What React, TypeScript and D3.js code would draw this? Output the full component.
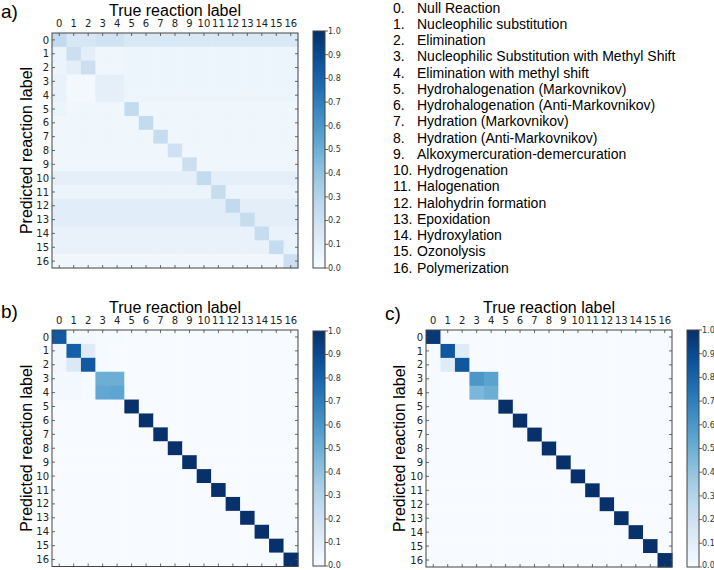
import React from "react";
import * as d3 from "d3";

const labels: string[] = ["0","1","2","3","4","5","6","7","8","9","10","11","12","13","14","15","16"];

const reactionNames: string[] = [
  "Null Reaction",
  "Nucleophilic substitution",
  "Elimination",
  "Nucleophilic Substitution with Methyl Shift",
  "Elimination with methyl shift",
  "Hydrohalogenation (Markovnikov)",
  "Hydrohalogenation (Anti-Markovnikov)",
  "Hydration (Markovnikov)",
  "Hydration (Anti-Markovnikov)",
  "Alkoxymercuration-demercuration",
  "Hydrogenation",
  "Halogenation",
  "Halohydrin formation",
  "Epoxidation",
  "Hydroxylation",
  "Ozonolysis",
  "Polymerization",
];

const colorbarTicks: number[] = [0, 0.1, 0.2, 0.3, 0.4, 0.5, 0.6, 0.7, 0.8, 0.9, 1.0];

// rows = predicted label, columns = true label
const matrixA: number[][] = [
  [0.26,0.16,0.16,0.19,0.19,0.15,0.15,0.15,0.15,0.15,0.15,0.15,0.15,0.15,0.15,0.15,0.15],
  [0.06,0.22,0.10,0.04,0.04,0.05,0.05,0.05,0.05,0.05,0.05,0.05,0.05,0.05,0.05,0.05,0.05],
  [0.06,0.10,0.22,0.04,0.04,0.05,0.05,0.05,0.05,0.05,0.05,0.05,0.05,0.05,0.05,0.05,0.05],
  [0.07,0.02,0.02,0.09,0.09,0.05,0.05,0.05,0.05,0.05,0.05,0.05,0.05,0.05,0.05,0.05,0.05],
  [0.07,0.02,0.02,0.09,0.09,0.05,0.05,0.05,0.05,0.05,0.05,0.05,0.05,0.05,0.05,0.05,0.05],
  [0.06,0.04,0.04,0.04,0.04,0.25,0.04,0.04,0.04,0.04,0.04,0.04,0.04,0.04,0.04,0.04,0.04],
  [0.04,0.04,0.04,0.04,0.04,0.04,0.25,0.04,0.04,0.04,0.04,0.04,0.04,0.04,0.04,0.04,0.04],
  [0.04,0.04,0.04,0.04,0.04,0.04,0.04,0.24,0.04,0.04,0.04,0.04,0.04,0.04,0.04,0.04,0.04],
  [0.04,0.04,0.04,0.04,0.04,0.04,0.04,0.04,0.20,0.04,0.04,0.04,0.04,0.04,0.04,0.04,0.04],
  [0.04,0.04,0.04,0.04,0.04,0.04,0.04,0.04,0.04,0.22,0.04,0.04,0.04,0.04,0.04,0.04,0.04],
  [0.09,0.09,0.09,0.09,0.09,0.09,0.09,0.09,0.09,0.09,0.25,0.09,0.09,0.09,0.09,0.09,0.09],
  [0.06,0.06,0.06,0.06,0.06,0.06,0.06,0.06,0.06,0.06,0.06,0.24,0.06,0.06,0.06,0.06,0.06],
  [0.11,0.11,0.11,0.11,0.11,0.11,0.11,0.11,0.11,0.11,0.11,0.11,0.26,0.10,0.10,0.10,0.10],
  [0.11,0.11,0.11,0.11,0.11,0.11,0.11,0.11,0.11,0.11,0.11,0.11,0.11,0.24,0.10,0.10,0.10],
  [0.07,0.07,0.07,0.07,0.07,0.07,0.07,0.07,0.07,0.07,0.07,0.07,0.07,0.07,0.24,0.07,0.07],
  [0.07,0.07,0.07,0.07,0.07,0.07,0.07,0.07,0.07,0.07,0.07,0.07,0.07,0.07,0.07,0.24,0.07],
  [0.04,0.04,0.04,0.04,0.04,0.04,0.04,0.04,0.04,0.04,0.04,0.04,0.04,0.04,0.04,0.04,0.22],
];

const matrixB: number[][] = [
  [0.84,0.02,0.02,0.01,0.01,0,0,0,0,0,0,0,0,0,0,0,0],
  [0.03,0.82,0.12,0.01,0,0,0,0,0,0,0,0,0,0,0,0,0],
  [0.03,0.14,0.84,0.01,0,0,0,0,0,0,0,0,0,0,0,0,0],
  [0.02,0.02,0.01,0.50,0.50,0,0,0,0,0,0,0,0,0,0,0,0],
  [0.02,0.02,0.01,0.53,0.54,0,0,0,0,0,0,0,0,0,0,0,0],
  [0,0,0,0,0,1,0,0,0,0,0,0,0,0,0,0,0],
  [0,0,0,0,0,0,1,0,0,0,0,0,0,0,0,0,0],
  [0,0,0,0,0,0,0,1,0,0,0,0,0,0,0,0,0],
  [0,0,0,0,0,0,0,0,1,0,0,0,0,0,0,0,0],
  [0,0,0,0,0,0,0,0,0,1,0,0,0,0,0,0,0],
  [0,0,0,0,0,0,0,0,0,0,1,0,0,0,0,0,0],
  [0,0,0,0,0,0,0,0,0,0,0,1,0,0,0,0,0],
  [0,0,0,0,0,0,0,0,0,0,0,0,1,0,0,0,0],
  [0,0,0,0,0,0,0,0,0,0,0,0,0,1,0,0,0],
  [0,0,0,0,0,0,0,0,0,0,0,0,0,0,1,0,0],
  [0,0,0,0,0,0,0,0,0,0,0,0,0,0,0,1,0],
  [0,0,0,0,0,0,0,0,0,0,0,0,0,0,0,0,1],
];

const matrixC: number[][] = [
  [0.97,0,0,0,0,0,0,0,0,0,0,0,0,0,0,0,0],
  [0.01,0.85,0.12,0,0,0,0,0,0,0,0,0,0,0,0,0,0],
  [0.01,0.12,0.85,0,0,0,0,0,0,0,0,0,0,0,0,0,0],
  [0.01,0,0,0.60,0.55,0,0,0,0,0,0,0,0,0,0,0,0],
  [0.01,0,0,0.46,0.50,0,0,0,0,0,0,0,0,0,0,0,0],
  [0,0,0,0,0,1,0,0,0,0,0,0,0,0,0,0,0],
  [0,0,0,0,0,0,1,0,0,0,0,0,0,0,0,0,0],
  [0,0,0,0,0,0,0,1,0,0,0,0,0,0,0,0,0],
  [0,0,0,0,0,0,0,0,1,0,0,0,0,0,0,0,0],
  [0,0,0,0,0,0,0,0,0,1,0,0,0,0,0,0,0],
  [0,0,0,0,0,0,0,0,0,0,1,0,0,0,0,0,0],
  [0,0,0,0,0,0,0,0,0,0,0,1,0,0,0,0,0],
  [0,0,0,0,0,0,0,0,0,0,0,0,1,0,0,0,0],
  [0,0,0,0,0,0,0,0,0,0,0,0,0,1,0,0,0],
  [0,0,0,0,0,0,0,0,0,0,0,0,0,0,1,0,0],
  [0,0,0,0,0,0,0,0,0,0,0,0,0,0,0,1,0],
  [0,0,0,0,0,0,0,0,0,0,0,0,0,0,0,0,1],
];

const color = d3.scaleSequential(d3.interpolateBlues).domain([0, 1]);
const SANS = "'Liberation Sans', Arial, Helvetica, sans-serif";
const DEJAVU = "'DejaVu Sans', sans-serif";

interface PanelProps {
  id: string;
  letter: string;
  letterX: number;
  letterY: number;
  matrix: number[][];
  x0: number;
  y0: number;
  w: number;
  h: number;
  cbX: number;
  cbY0: number;
  cbY1: number;
  yTitleX: number;
}

function Panel(p: PanelProps) {
  const xs = d3.scaleBand<string>().domain(labels).range([p.x0, p.x0 + p.w]);
  const ys = d3.scaleBand<string>().domain(labels).range([p.y0, p.y0 + p.h]);
  const cbScale = d3.scaleLinear().domain([0, 1]).range([p.cbY1, p.cbY0]);
  const cbW = 12;
  const gradStops = d3.range(0, 1.0001, 0.05);
  const tickLen = 3;
  return (
    <g>
      <defs>
        <linearGradient id={`grad-${p.id}`} x1="0" y1="1" x2="0" y2="0">
          {gradStops.map((t) => (
            <stop key={t} offset={`${t * 100}%`} stopColor={color(t)} />
          ))}
        </linearGradient>
      </defs>
      <text x={p.letterX} y={p.letterY} fontFamily={SANS} fontSize={19} fill="#000">
        {p.letter}
      </text>
      {p.matrix.map((row, i) =>
        row.map((v, j) => (
          <rect
            key={`${i}-${j}`}
            x={xs(labels[j])!}
            y={ys(labels[i])!}
            width={xs.bandwidth() + 0.5}
            height={ys.bandwidth() + 0.5}
            fill={color(v)}
          />
        ))
      )}
      {labels.map((l) => {
        const cx = xs(l)! + xs.bandwidth() / 2;
        const cy = ys(l)! + ys.bandwidth() / 2;
        return (
          <g key={`t-${l}`} stroke="#444" strokeWidth={0.8}>
            <line x1={cx} x2={cx} y1={p.y0} y2={p.y0 + tickLen} />
            <line x1={cx} x2={cx} y1={p.y0 + p.h} y2={p.y0 + p.h - tickLen} />
            <line x1={p.x0} x2={p.x0 + tickLen} y1={cy} y2={cy} />
            <line x1={p.x0 + p.w} x2={p.x0 + p.w - tickLen} y1={cy} y2={cy} />
          </g>
        );
      })}
      <rect x={p.x0} y={p.y0} width={p.w} height={p.h} fill="none" stroke="#444" strokeWidth={1} />
      {labels.map((l) => (
        <text
          key={`xl-${l}`}
          x={xs(l)! + xs.bandwidth() / 2}
          y={p.y0 - 6}
          textAnchor="middle"
          fontFamily={DEJAVU}
          fontSize={10}
          fill="#222"
        >
          {l}
        </text>
      ))}
      {labels.map((l) => (
        <text
          key={`yl-${l}`}
          x={p.x0 - 3}
          y={ys(l)! + ys.bandwidth() / 2}
          dy="0.36em"
          textAnchor="end"
          fontFamily={DEJAVU}
          fontSize={10}
          fill="#222"
        >
          {l}
        </text>
      ))}
      <text
        x={p.x0 + p.w / 2}
        y={p.y0 - 17}
        textAnchor="middle"
        fontFamily={SANS}
        fontSize={16}
        fill="#000"
      >
        True reaction label
      </text>
      <text
        transform={`translate(${p.yTitleX},${p.y0 + p.h / 2}) rotate(-90)`}
        textAnchor="middle"
        fontFamily={SANS}
        fontSize={16}
        fill="#000"
      >
        Predicted reaction label
      </text>
      <rect
        x={p.cbX}
        y={p.cbY0}
        width={cbW}
        height={p.cbY1 - p.cbY0}
        fill={`url(#grad-${p.id})`}
        stroke="#444"
        strokeWidth={1}
      />
      {colorbarTicks.map((t) => (
        <g key={`cb-${t}`}>
          <line
            x1={p.cbX + cbW}
            x2={p.cbX + cbW + 3}
            y1={cbScale(t)}
            y2={cbScale(t)}
            stroke="#444"
            strokeWidth={0.8}
          />
          <text
            x={p.cbX + cbW + 3}
            y={Math.min(cbScale(t), 565)}
            dy="0.35em"
            fontFamily={DEJAVU}
            fontSize={8}
            fill="#333"
          >
            {d3.format(".1f")(t)}
          </text>
        </g>
      ))}
    </g>
  );
}

export default function App() {
  const legendY = d3.scaleLinear().domain([0, 16]).range([12.5, 272.5]);
  return (
    <svg
      width={714}
      height={570}
      style={{ position: "absolute", left: 0, top: 0, display: "block", background: "#fff" }}
    >
      <rect x={0} y={0} width={714} height={570} fill="#fff" />
      <Panel
        id="a"
        letter="a)"
        letterX={1}
        letterY={18}
        matrix={matrixA}
        x0={52}
        y0={33}
        w={246}
        h={235}
        cbX={313}
        cbY0={31}
        cbY1={268}
        yTitleX={32}
      />
      <Panel
        id="b"
        letter="b)"
        letterX={1}
        letterY={318}
        matrix={matrixB}
        x0={52}
        y0={330}
        w={246}
        h={236.5}
        cbX={313}
        cbY0={331}
        cbY1={566}
        yTitleX={32}
      />
      <Panel
        id="c"
        letter="c)"
        letterX={385}
        letterY={320}
        matrix={matrixC}
        x0={426}
        y0={330}
        w={246}
        h={237}
        cbX={687}
        cbY0={330}
        cbY1={567}
        yTitleX={405}
      />
      {reactionNames.map((name, i) => (
        <g key={`lg-${i}`} fontFamily={SANS} fontSize={14} fill="#000">
          <text x={393} y={legendY(i)}>{`${labels[i]}.`}</text>
          <text x={417} y={legendY(i)}>{name}</text>
        </g>
      ))}
    </svg>
  );
}
